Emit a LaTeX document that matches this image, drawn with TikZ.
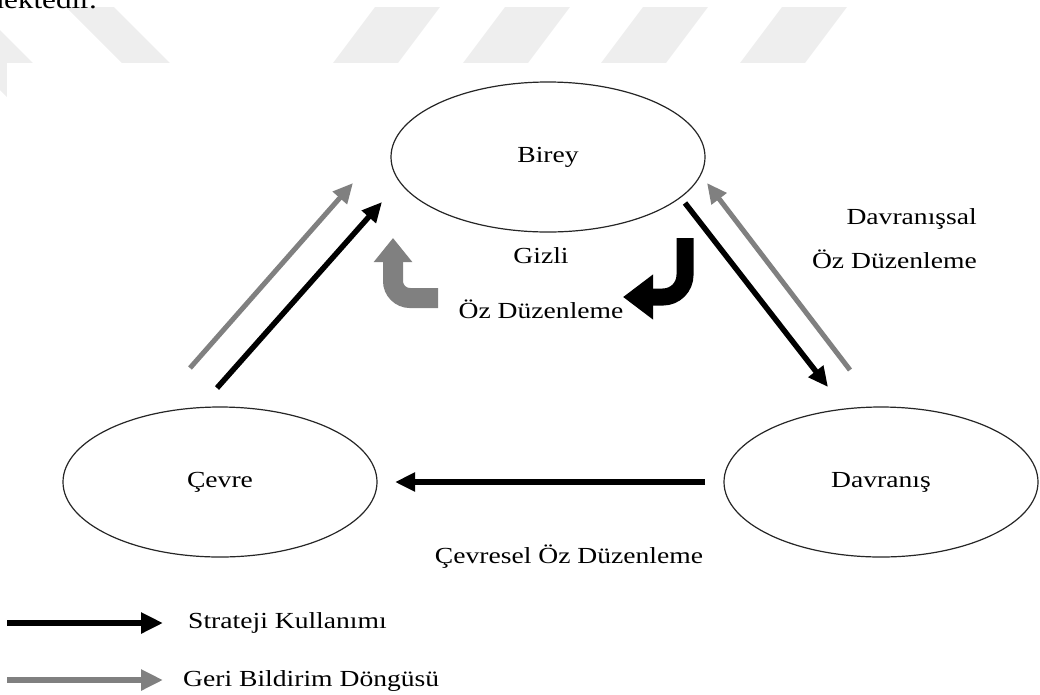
\documentclass[tikz,border=0pt]{standalone}
\usepackage{fontspec}
\setmainfont{Liberation Serif}[FakeStretch=1.2]
\usetikzlibrary{shapes.geometric,arrows.meta}

\definecolor{filigran}{HTML}{EEEEEE}
\definecolor{geri}{HTML}{808080}

\begin{document}
\begin{tikzpicture}[x=1pt,y=-1pt,font=\fontsize{23}{27}\selectfont,>={Triangle[length=20pt,width=18pt]}]
 \tikzstyle{alan}=[ellipse,draw=black!85,line width=1.2pt,minimum width=314pt,minimum height=150pt,inner sep=0pt,outer sep=0pt]
 \tikzstyle{yazi}=[inner sep=0pt]
 \tikzstyle{strateji}=[->,line width=5.5pt,black]
 \tikzstyle{geribildirim}=[->,line width=5pt,geri]

\useasboundingbox (0,0) rectangle (1040,694);
\clip (0,0) rectangle (1040,694);

% filigran
\fill[filigran] (-83,7) -- (-23,7) -- (89,119) -- (29,119) -- cycle;
\fill[filigran] (66,7) -- (114,7) -- (226,119) -- (178,119) -- cycle;
\foreach \x in {375,505,643,782}
  \fill[filigran] (\x,7) -- (\x+65,7) -- (\x-19,119) -- (\x-84,119) -- cycle;
\fill[white] (7,63) rectangle (1040,694);
\node[yazi,anchor=base east,font=\fontsize{26}{30}\selectfont] (metin) at (97,8) {mektedir.};

\node[alan] (birey)    at (548,157) {Birey};
\node[alan] (cevre)    at (220,482) {Çevre};
\node[alan] (davranis) at (881,482) {Davranış};

\coordinate (s1) at ([shift={(-3,-19)}]cevre.north);
\coordinate (s2) at ([shift={(-9,45)}]birey.west);
\coordinate (g1) at ([shift={(-30,-39)}]cevre.north);
\coordinate (g2) at ([shift={(-38,26)}]birey.west);
\coordinate (s3) at ([shift={(-20,46)}]birey.east);
\coordinate (s4) at ([shift={(-53,-20)}]davranis.north);
\coordinate (g3) at ([shift={(-31,-37)}]davranis.north);
\coordinate (g4) at ([shift={(2,26)}]birey.east);

\path[strateji] (s1) edge (s2)
                (s3) edge (s4)
                (davranis) edge [shorten <=19pt,shorten >=18pt] (cevre);
\path[geribildirim] (g1) edge (g2)
                    (g3) edge (g4);

% gizli oz duzenleme oklari
\draw[geri,line width=20pt,rounded corners=17pt,-{Triangle[length=24pt,width=37pt]}] (438,298) -- (393,298) -- (393,238);
\draw[black,line width=17pt,rounded corners=22pt,-{Triangle[length=30pt,width=43pt]}] (685,238) -- (685,297) -- (623,297);

\node[yazi,anchor=base]      (gizli)    at (541,263) {Gizli};
\node[yazi,anchor=base]      (gizlioz)  at (541,318) {Öz Düzenleme};
\node[yazi,anchor=base east] (davsal)   at (977,224) {Davranışsal};
\node[yazi,anchor=base east] (davsaloz) at (977,268) {Öz Düzenleme};
\node[yazi,anchor=base]      (cevresel) at (569,563) {Çevresel Öz Düzenleme};

% lejant
\node[yazi,anchor=base west] (strat) at (188,628) {Strateji Kullanımı};
\node[yazi,anchor=base west] (geriB) at (183,686) {Geri Bildirim Döngüsü};
\coordinate (sa) at (7,623);
\coordinate (sb) at (163,623);
\coordinate (ga) at (7,680);
\coordinate (gb) at (163,680);
\path[strateji,line width=6pt,-{Triangle[length=22pt,width=20pt]}] (sa) edge (sb);
\path[geribildirim,line width=6pt,-{Triangle[length=22pt,width=20pt]}] (ga) edge (gb);
\end{tikzpicture}
\end{document}
